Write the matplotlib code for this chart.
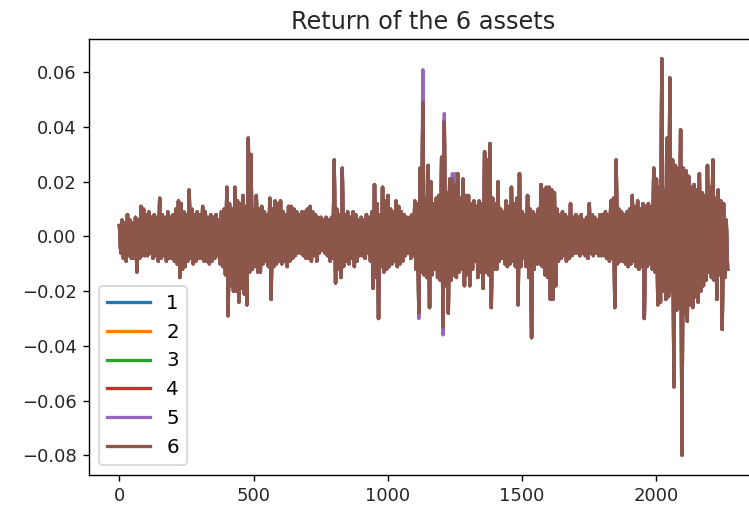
import numpy as np
import matplotlib
matplotlib.use("Agg")
import matplotlib.pyplot as plt

# Upper / lower swing of the returns, read per 10-day block (days 0..2269)
upper = [
    0.004, 0.006, 0.005, 0.008, 0.006, 0.005, 0.007, 0.006, 0.011, 0.010,
    0.008, 0.009, 0.007, 0.008, 0.007, 0.014, 0.008, 0.007, 0.009, 0.007,
    0.008, 0.010, 0.013, 0.012, 0.009, 0.008, 0.017, 0.010, 0.008, 0.009,
    0.008, 0.011, 0.009, 0.007, 0.008, 0.007, 0.008, 0.006, 0.009, 0.010,
    0.018, 0.012, 0.010, 0.018, 0.013, 0.012, 0.015, 0.011, 0.036, 0.030,
    0.010, 0.015, 0.010, 0.011, 0.009, 0.008, 0.014, 0.010, 0.013, 0.012,
    0.013, 0.009, 0.008, 0.011, 0.011, 0.010, 0.009, 0.008, 0.009, 0.009,
    0.010, 0.011, 0.009, 0.008, 0.007, 0.007, 0.006, 0.007, 0.006, 0.007,
    0.028, 0.010, 0.008, 0.025, 0.008, 0.009, 0.007, 0.009, 0.008, 0.006,
    0.007, 0.006, 0.008, 0.007, 0.009, 0.019, 0.012, 0.008, 0.018, 0.013,
    0.015, 0.010, 0.009, 0.013, 0.011, 0.009, 0.008, 0.007, 0.007, 0.008,
    0.013, 0.012, 0.025, 0.049, 0.014, 0.026, 0.020, 0.012, 0.014, 0.015,
    0.029, 0.042, 0.016, 0.021, 0.021, 0.019, 0.023, 0.014, 0.021, 0.015,
    0.015, 0.012, 0.013, 0.011, 0.013, 0.012, 0.031, 0.028, 0.034, 0.014,
    0.012, 0.020, 0.010, 0.009, 0.013, 0.011, 0.018, 0.012, 0.014, 0.023,
    0.009, 0.008, 0.015, 0.010, 0.009, 0.008, 0.010, 0.019, 0.017, 0.018,
    0.018, 0.017, 0.016, 0.010, 0.008, 0.009, 0.008, 0.007, 0.012, 0.007,
    0.008, 0.007, 0.008, 0.006, 0.007, 0.012, 0.008, 0.007, 0.006, 0.008,
    0.008, 0.009, 0.008, 0.013, 0.014, 0.028, 0.010, 0.009, 0.008, 0.009,
    0.010, 0.015, 0.011, 0.013, 0.010, 0.012, 0.011, 0.012, 0.011, 0.025,
    0.021, 0.018, 0.065, 0.017, 0.036, 0.058, 0.028, 0.026, 0.025, 0.039,
    0.025, 0.024, 0.022, 0.018, 0.019, 0.017, 0.023, 0.016, 0.015, 0.026,
    0.018, 0.028, 0.014, 0.017, 0.013, 0.012, 0.006,
]
lower = [
    -0.006, -0.008, -0.009, -0.007, -0.008, -0.008, -0.013, -0.008, -0.007, -0.007,
    -0.007, -0.006, -0.008, -0.007, -0.009, -0.008, -0.007, -0.009, -0.008, -0.008,
    -0.009, -0.010, -0.015, -0.012, -0.011, -0.009, -0.008, -0.010, -0.009, -0.008,
    -0.008, -0.009, -0.009, -0.010, -0.009, -0.008, -0.007, -0.010, -0.011, -0.014,
    -0.029, -0.018, -0.020, -0.020, -0.024, -0.019, -0.021, -0.025, -0.013, -0.012,
    -0.011, -0.013, -0.013, -0.010, -0.009, -0.011, -0.023, -0.011, -0.010, -0.009,
    -0.010, -0.009, -0.011, -0.009, -0.008, -0.007, -0.006, -0.006, -0.007, -0.008,
    -0.008, -0.009, -0.007, -0.009, -0.006, -0.005, -0.006, -0.007, -0.009, -0.008,
    -0.017, -0.012, -0.015, -0.011, -0.009, -0.010, -0.008, -0.011, -0.009, -0.007,
    -0.007, -0.008, -0.006, -0.009, -0.019, -0.015, -0.030, -0.011, -0.013, -0.012,
    -0.011, -0.010, -0.009, -0.011, -0.010, -0.009, -0.007, -0.006, -0.008, -0.007,
    -0.012, -0.028, -0.013, -0.014, -0.015, -0.026, -0.014, -0.012, -0.015, -0.016,
    -0.033, -0.018, -0.028, -0.016, -0.014, -0.015, -0.013, -0.012, -0.018, -0.014,
    -0.018, -0.012, -0.009, -0.015, -0.013, -0.019, -0.013, -0.014, -0.026, -0.012,
    -0.012, -0.009, -0.008, -0.010, -0.011, -0.010, -0.009, -0.011, -0.025, -0.011,
    -0.008, -0.011, -0.015, -0.037, -0.012, -0.010, -0.010, -0.011, -0.014, -0.015,
    -0.023, -0.023, -0.018, -0.009, -0.008, -0.007, -0.009, -0.008, -0.007, -0.006,
    -0.006, -0.007, -0.006, -0.007, -0.008, -0.006, -0.007, -0.006, -0.007, -0.007,
    -0.007, -0.008, -0.009, -0.008, -0.026, -0.010, -0.009, -0.009, -0.010, -0.011,
    -0.010, -0.009, -0.011, -0.012, -0.011, -0.030, -0.011, -0.010, -0.012, -0.013,
    -0.025, -0.024, -0.020, -0.023, -0.022, -0.020, -0.055, -0.027, -0.026, -0.080,
    -0.028, -0.031, -0.025, -0.026, -0.022, -0.024, -0.020, -0.018, -0.016, -0.013,
    -0.015, -0.016, -0.023, -0.014, -0.034, -0.015, -0.012,
]
# Asset 5 departs from the others at a few spikes (block number -> value)
asset5_upper_blocks = [113, 121, 124, 125]
asset5_upper_vals = [0.061, 0.045, 0.023, 0.023]
asset5_lower_blocks = [111, 120]
asset5_lower_vals = [-0.030, -0.036]

labels = ["1", "2", "3", "4", "5", "6"]
title = "Return of the 6 assets"

days = np.arange(0, 10 * len(upper), 5)
base = np.column_stack([upper, lower]).ravel()

up5 = np.array(upper, dtype=float)
lo5 = np.array(lower, dtype=float)
up5[asset5_upper_blocks] = asset5_upper_vals
lo5[asset5_lower_blocks] = asset5_lower_vals
series5 = np.column_stack([up5, lo5]).ravel()

dpi = 125
fig = plt.figure(figsize=(749 / dpi, 509 / dpi), dpi=dpi)
ax = fig.add_axes([89 / 749, 34 / 509, 669 / 749, 436 / 509])

for i, lab in enumerate(labels):
    y = series5 if lab == "5" else base
    ax.plot(days, y, label=lab, color=f"C{i}", lw=1.9)

ax.set_title(title, fontsize=13.8, color="#262626")
ax.legend(loc="lower left", fontsize=11.4, handlelength=2.2)
ax.tick_params(labelsize=10.4, labelcolor="#262626")
ax.set_xticks([0, 500, 1000, 1500, 2000])
ax.set_yticks([0.06, 0.04, 0.02, 0.00, -0.02, -0.04, -0.06, -0.08])

fig.savefig("out.png", dpi=dpi)
